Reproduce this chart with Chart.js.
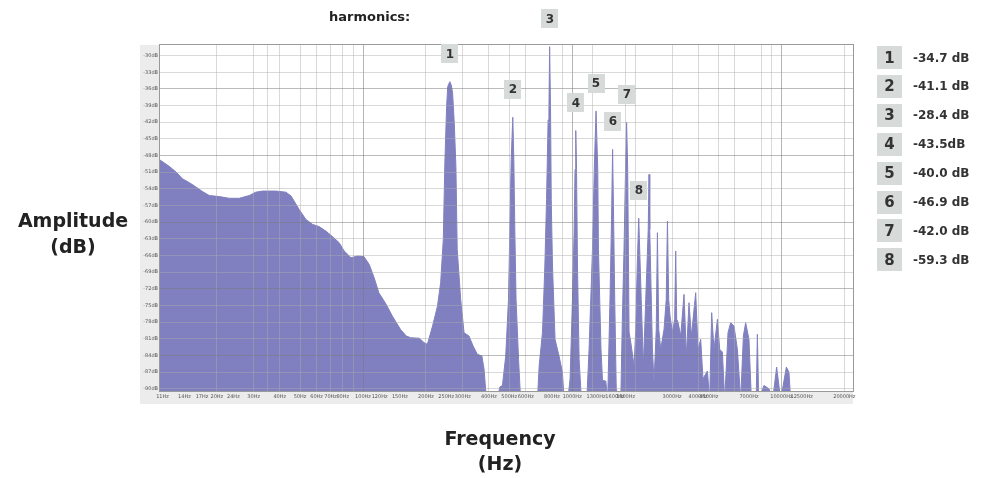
<!DOCTYPE html>
<html>
<head>
<meta charset="utf-8">
<script src="https://cdn.jsdelivr.net/npm/chart.js@4.4.1/dist/chart.umd.min.js"></script>
<style>
    html, body { margin: 0; padding: 0; background: #ffffff; }
</style>
</head>
<body>
<canvas id="espectro" width="981" height="478"></canvas>
<script>
//DATOS - espectro (Hz / dB)
var freqs = [
    10.6, 11.8, 12.8, 13.7, 14.8, 15.8, 17.1, 18.4, 20.6, 22.9,
    25.6, 28.6, 30.7, 33.1, 38.3, 42.8, 45.3, 49.5, 53.3, 57.4,
    61.7, 66.4, 71.5, 76.9, 81.3, 87.6, 94.2, 101, 107, 113,
    119, 129, 138, 151, 161, 169, 186, 196, 203, 215,
    227, 235, 242, 246, 251, 254, 260, 264, 268, 273,
    278, 282, 293, 304, 321, 336, 352, 370, 379, 389,
    440, 450, 464, 481, 496, 503, 511, 520, 526, 532,
    539, 554, 567, 682, 695, 721, 740, 754, 767, 774,
    780, 788, 794, 805, 828, 865, 898, 915, 953, 977,
    1003, 1021, 1032, 1040, 1049, 1060, 1079, 1107, 1174, 1204,
    1250, 1275, 1300, 1325, 1335, 1373, 1396, 1447, 1478, 1516,
    1542, 1560, 1578, 1597, 1624, 1669, 1707, 1738, 1769, 1799,
    1820, 1842, 1870, 1905, 1976, 2013, 2046, 2080, 2114, 2138,
    2190, 2247, 2309, 2329, 2348, 2418, 2462, 2522, 2555, 2592,
    2650, 2748, 2815, 2853, 2893, 2936, 3014, 3090, 3125, 3159,
    3205, 3302, 3424, 3516, 3617, 3714, 3894, 3995, 4115, 4219,
    4428, 4542, 4643, 4763, 4945, 5072, 5225, 5357, 5557, 5723,
    5936, 6162, 6390, 6581, 6750, 7000, 7189, 7576, 7678, 7789,
    8257, 8723, 9087, 9493, 9922, 10563, 10870, 11076, 22000
];
var levels = [
    -48.7, -49.9, -51.0, -52.2, -52.9, -53.6, -54.5, -55.2, -55.4, -55.7,
    -55.7, -55.2, -54.6, -54.4, -54.4, -54.6, -55.3, -57.7, -59.5, -60.4,
    -60.8, -61.6, -62.6, -63.7, -65.2, -66.4, -66.1, -66.2, -67.6, -70.0,
    -72.7, -74.8, -76.9, -79.3, -80.5, -80.8, -80.9, -81.7, -82.0, -78.7,
    -75.1, -70.9, -63.1, -49.6, -39.1, -35.6, -34.7, -35.3, -36.7, -42.1,
    -50.0, -64.9, -73.9, -79.9, -80.5, -82.3, -83.8, -84.1, -86.5, -92,
    -92, -89.7, -89.4, -84.1, -73.9, -61.9, -48.7, -41.1, -48.7, -61.9,
    -73.9, -84.7, -92, -92, -85.9, -79.8, -67.9, -55.9, -41.6, -39.8,
    -28.4, -39.8, -55.9, -67.9, -81.1, -84.1, -87.0, -92, -92, -88.2,
    -73.9, -61.9, -50.5, -43.5, -50.5, -67.9, -84.7, -92, -92, -82.9,
    -64.9, -50.5, -40.0, -50.5, -64.9, -82.9, -88.5, -88.6, -92, -73.9,
    -59.5, -46.9, -59.5, -73.9, -90.0, -92, -92, -76.9, -64.9, -50.5,
    -42.0, -50.5, -79.8, -81.6, -85.9, -79.3, -67.9, -59.3, -67.9, -73.9,
    -85.9, -73.9, -61.3, -51.4, -61.3, -82.9, -88.8, -79.3, -61.9, -79.3,
    -82.9, -79.3, -73.9, -59.8, -73.9, -76.9, -79.8, -77.5, -65.2, -77.5,
    -78.0, -80.5, -73.0, -84.1, -74.5, -80.5, -72.7, -82.9, -81.1, -88.2,
    -86.8, -92, -76.3, -82.9, -77.5, -82.9, -83.4, -92, -79.9, -78.1,
    -78.7, -82.9, -92, -80.5, -78.1, -81.1, -92, -92, -80.2, -92,
    -89.4, -90.0, -92, -86.1, -92, -86.1, -87.0, -92, -92
];

//ARMONICOS
var harmNum = ['1', '2', '3', '4', '5', '6', '7', '8'];
var harmFreqs = [260, 520, 780, 1040, 1300, 1560, 1820, 2080];
var harmDb = [-34.7, -41.1, -28.4, -43.5, -40.0, -46.9, -42.0, -59.3];
var harmText = ['-34.7 dB', '-41.1 dB', '-28.4 dB', '-43.5dB', '-40.0 dB', '-46.9 dB', '-42.0 dB', '-59.3 dB'];

//EJES
var yTicks = [-30, -33, -36, -39, -42, -45, -48, -51, -54, -57, -60, -63, -66, -69, -72, -75, -78, -81, -84, -87, -90];
var xGridFreqs = [20, 30, 35, 40, 50, 60, 70, 80, 90, 100, 200, 300, 400, 500, 600, 900, 1000, 1250, 1800, 2000, 3000, 4000, 5000, 6000, 8000, 9000, 10000, 20000];
var xMajorFreqs = [100, 1000, 10000];
var xLabelFreqs = [11, 14, 17, 20, 24, 30, 40, 50, 60, 70, 80, 100, 120, 150, 200, 250, 300, 400, 500, 600, 800, 1000, 1300, 1600, 1800, 3000, 4000, 4500, 7000, 10000, 12500, 20000];

var xTickValues = xGridFreqs.concat(xLabelFreqs.filter(function (v) {
    return xGridFreqs.indexOf(v) < 0;
})).sort(function (a, b) { return a - b; });

var puntos = [];
for (var i = 0; i < freqs.length; i++) {
    puntos.push({ x: freqs[i], y: levels[i] });
}

var fuente = '"DejaVu Sans", Verdana, sans-serif';

var extras = {
    id: 'extras',
    beforeDraw: function (chart) {
        var ctx = chart.ctx;
        var a = chart.chartArea;
        ctx.save();
        ctx.fillStyle = '#ececec';
        ctx.fillRect(a.left - 20, a.top, 20, a.bottom - a.top + 13);
        ctx.fillRect(a.left - 20, a.bottom, a.right - a.left + 20, 13);
        ctx.restore();
    },
    afterDraw: function (chart) {
        var ctx = chart.ctx;
        var a = chart.chartArea;
        var xs = chart.scales.x;
        var ys = chart.scales.y;
        ctx.save();
        // marco
        ctx.strokeStyle = '#9a9a9a';
        ctx.lineWidth = 1;
        ctx.strokeRect(a.left - 0.5, a.top - 0.5, a.right - a.left + 1, a.bottom - a.top + 1);

        ctx.textAlign = 'center';
        ctx.textBaseline = 'middle';
        // etiquetas de armonicos sobre cada pico
        for (var i = 0; i < harmFreqs.length; i++) {
            var px = xs.getPixelForValue(harmFreqs[i]);
            var py = ys.getPixelForValue(harmDb[i]) - 28;
            ctx.fillStyle = '#d6dad9';
            ctx.fillRect(Math.round(px - 8.5), Math.round(py - 9.5), 17, 19);
            ctx.fillStyle = '#333333';
            ctx.font = 'bold 12px ' + fuente;
            ctx.fillText(harmNum[i], Math.round(px), Math.round(py) + 1);
        }

        // leyenda derecha
        for (var j = 0; j < harmText.length; j++) {
            var cy = 57.5 + j * 28.9;
            ctx.fillStyle = '#d6dad9';
            ctx.fillRect(877, Math.round(cy - 11.5), 25, 23);
            ctx.fillStyle = '#333333';
            ctx.textAlign = 'center';
            ctx.font = 'bold 15px ' + fuente;
            ctx.fillText(harmNum[j], 889.5, Math.round(cy) + 1);
            ctx.textAlign = 'left';
            ctx.font = 'bold 12px ' + fuente;
            ctx.fillText(harmText[j], 913, Math.round(cy) + 1);
        }

        ctx.fillStyle = '#222222';
        ctx.textAlign = 'left';
        ctx.font = 'bold 13px ' + fuente;
        ctx.fillText('harmonics:', 329, 18);

        ctx.textAlign = 'center';
        ctx.font = 'bold 19px ' + fuente;
        ctx.fillText('Amplitude', 73, 222);
        ctx.fillText('(dB)', 73, 248);
        ctx.fillText('Frequency', 500, 440);
        ctx.fillText('(Hz)', 500, 465);
        ctx.restore();
    }
};

var grafico = new Chart(document.getElementById('espectro'), {
    type: 'line',
    data: {
        datasets: [{
            data: puntos,
            fill: 'start',
            backgroundColor: '#8080c0',
            borderColor: '#8080c0',
            borderWidth: 1,
            pointRadius: 0,
            tension: 0
        }]
    },
    options: {
        responsive: false,
        animation: false,
        devicePixelRatio: 1,
        layout: {
            padding: { left: 140, right: 128, top: 45, bottom: 74 }
        },
        plugins: {
            legend: { display: false },
            tooltip: { enabled: false }
        },
        scales: {
            x: {
                type: 'logarithmic',
                min: 10.7,
                max: 22000,
                afterBuildTicks: function (scale) {
                    scale.ticks = xTickValues.map(function (v) { return { value: v }; });
                },
                afterFit: function (scale) { scale.height = 13; },
                border: { display: false },
                grid: {
                    z: 1,
                    drawTicks: false,
                    color: function (c) {
                        var v = c.tick ? c.tick.value : null;
                        if (xMajorFreqs.indexOf(v) >= 0) return 'rgba(120,120,120,0.55)';
                        if (xGridFreqs.indexOf(v) >= 0) return 'rgba(170,170,170,0.45)';
                        return 'rgba(0,0,0,0)';
                    }
                },
                ticks: {
                    autoSkip: false,
                    maxRotation: 0,
                    minRotation: 0,
                    padding: 3,
                    color: '#555555',
                    font: { size: 5, family: fuente },
                    callback: function (value) {
                        return xLabelFreqs.indexOf(value) >= 0 ? value + 'Hz' : '';
                    }
                }
            },
            y: {
                min: -90.4,
                max: -28.1,
                afterBuildTicks: function (scale) {
                    scale.ticks = yTicks.map(function (v) { return { value: v }; });
                },
                afterFit: function (scale) { scale.width = 20; },
                border: { display: false },
                grid: {
                    z: 1,
                    drawTicks: false,
                    color: function (c) {
                        var v = c.tick ? c.tick.value : null;
                        if (v % 12 === 0) return 'rgba(120,120,120,0.5)';
                        return 'rgba(170,170,170,0.45)';
                    }
                },
                ticks: {
                    padding: 2,
                    color: '#555555',
                    font: { size: 5, family: fuente },
                    callback: function (value) { return value + 'dB'; }
                }
            }
        }
    },
    plugins: [extras]
});
</script>
</body>
</html>
